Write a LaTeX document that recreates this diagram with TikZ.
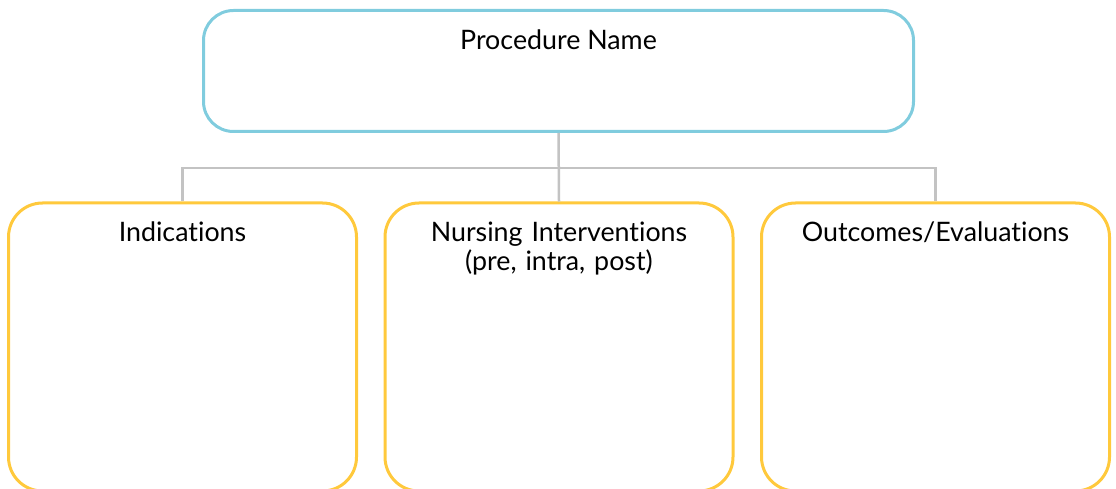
\documentclass[tikz,border=0pt]{standalone}
\usepackage{fontspec}
\setmainfont{Lato}[Ligatures=NoCommon]
\definecolor{topc}{HTML}{80CCDE}
\definecolor{boxc}{HTML}{FFC93C}
\definecolor{connc}{HTML}{C3C3C3}
\begin{document}
\begin{tikzpicture}[x=1pt,y=1pt,
  topbox/.style={draw=topc,line width=3pt,rounded corners=30pt,rectangle,inner sep=0pt},
  subbox/.style={draw=boxc,line width=3pt,rounded corners=34pt,rectangle,inner sep=0pt,minimum width=348pt,minimum height=288pt},
  conn/.style={draw=connc,line width=2.5pt},
  lbl/.style={font=\fontsize{26.8}{29}\selectfont,align=center,anchor=base,inner sep=0pt}]
\useasboundingbox (0,0) rectangle (1116,-489);
\node[topbox,minimum width=710pt,minimum height=121pt] (top) at (558.5,-71) {};
\node[subbox] (b1) at (182.5,-347) {};
\node[subbox] (b2) at (559,-347) {};
\node[subbox] (b3) at (935.5,-347) {};
\coordinate (j) at (558.5,-168);
\draw[conn] (top.south) -- (b2.north);
\draw[conn] (b1.north) |- (b3.north |- j) -- (b3.north);
\node[lbl] (t0) at (558.5,-50) {Procedure Name};
\node[lbl] (t1) at (182.5,-241) {Indications};
\node[lbl,text width=340pt,anchor=base] (t2) at (559,-241) {Nursing Interventions\\(pre, intra, post)};
\node[lbl] (t3) at (935.5,-241) {Outcomes/Evaluations};
\end{tikzpicture}
\end{document}
